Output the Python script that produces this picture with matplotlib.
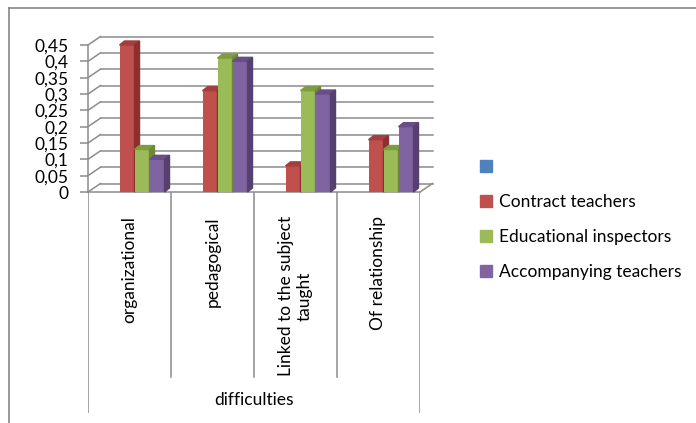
import matplotlib
matplotlib.use("Agg")
import matplotlib.pyplot as plt
from matplotlib.patches import Polygon, Patch
from matplotlib.lines import Line2D
from matplotlib.ticker import FuncFormatter
import numpy as np

# share of each difficulty type, per respondent group
categories = ["organizational", "pedagogical", "Linked to the subject\ntaught", "Of relationship"]
contract = [0.45, 0.31, 0.08, 0.16]
inspectors = [0.13, 0.41, 0.31, 0.13]
accompanying = [0.10, 0.40, 0.30, 0.20]
series_names = ["Contract teachers", "Educational inspectors", "Accompanying teachers"]
y_ticks = [0, 0.05, 0.1, 0.15, 0.2, 0.25, 0.3, 0.35, 0.4, 0.45]
axis_title = "difficulties"

# (front, top, side) shades for the fake 3d columns
shades = [("#C0504D", "#A33E3C", "#8C2F2D"),
          ("#9BBB59", "#7E9C40", "#6C8A34"),
          ("#8064A2", "#684F88", "#56406F")]
legend_blue = "#4F81BD"
grey = "#8C8C8C"

plt.rcParams["font.family"] = ["Lato", "DejaVu Sans"]
plt.rcParams["font.size"] = 12.5

W, H = 696, 423
fig = plt.figure(figsize=(W / 100, H / 100), dpi=100)

# front plane of the plot area
ax = fig.add_axes([88 / W, (H - 192) / H, 332 / W, 147 / H])
ax.set_xlim(-0.5, 3.5)
ax.set_ylim(0, 0.45)

# wall depth and column depth, in data units
DX, DY = 12.5 / 83, 8.5 / 326.7
BX, BY = 5 / 83, 4 / 326.7
bw = 15 / 83
shift = 12.5 / 83

# back wall gridlines with the slanted side-wall part
for v in y_ticks:
    ax.plot([-0.5, -0.5 + DX], [v, v + DY], color=grey, lw=1.1, clip_on=False, zorder=1)
    ax.plot([-0.5 + DX, 3.5 + DX], [v + DY, v + DY], color=grey, lw=1.1, clip_on=False, zorder=1)
ax.plot([3.5, 3.5 + DX], [0, DY], color=grey, lw=1.1, clip_on=False, zorder=1)

values = [contract, inspectors, accompanying]
x = np.arange(len(categories))
z = 3
for c in range(len(categories)):
    for s, vals in enumerate(values):
        front, top, side = shades[s]
        left = x[c] + shift - 1.5 * bw + s * bw
        h = vals[c]
        ax.bar(left, h, width=bw, align="edge", color=front, zorder=z, clip_on=False)
        ax.add_patch(Polygon([(left, h), (left + bw, h), (left + bw + BX, h + BY), (left + BX, h + BY)],
                             closed=True, color=top, zorder=z, clip_on=False))
        ax.add_patch(Polygon([(left + bw, 0), (left + bw + BX, BY), (left + bw + BX, h + BY), (left + bw, h)],
                             closed=True, color=side, zorder=z, clip_on=False))
        z += 1

for sp in ["top", "right"]:
    ax.spines[sp].set_visible(False)
for sp in ["left", "bottom"]:
    ax.spines[sp].set_color(grey)
    ax.spines[sp].set_linewidth(1.1)
ax.set_xticks([])
ax.set_yticks(y_ticks)
ax.yaxis.set_major_formatter(FuncFormatter(lambda v, p: ("%g" % round(v, 2)).replace(".", ",")))
ax.tick_params(axis="y", direction="out", length=6, width=1.1, color=grey, pad=8, labelsize=12.5)
ax.patch.set_visible(False)

# category table under the plot
tab = fig.add_axes([88 / W, (H - 413) / H, 332 / W, 221 / H])
tab.set_xlim(-0.5, 3.5)
tab.set_ylim(1, 0)
tab.axis("off")
for b in [0.5, 1.5, 2.5]:
    tab.plot([b, b], [0, 0.837], color=grey, lw=1.1)
for b in [-0.5, 3.5]:
    tab.plot([b, b], [0, 1], color=grey, lw=1.1)
for i, name in enumerate(categories):
    tab.text(x[i], 0.11, name, rotation=90, ha="center", va="top", multialignment="center")
tab.text(1.5, 0.94, axis_title, ha="center", va="center")

handles = [Patch(color=legend_blue)] + [Patch(color=sh[0]) for sh in shades]
fig.legend(handles, [" "] + series_names, loc="upper left", bbox_to_anchor=(473 / W, (H - 152) / H),
           frameon=False, handlelength=0.7, handleheight=0.7, handletextpad=0.4,
           labelspacing=1.1, borderaxespad=0, fontsize=12.5)

# chart border
fig.add_artist(Line2D([9 / W, 9 / W], [0, (H - 8) / H], color="#868686", lw=1.2))
fig.add_artist(Line2D([9 / W, 1], [(H - 8) / H, (H - 8) / H], color="#868686", lw=1.2))

fig.savefig("out.png", dpi=100)
